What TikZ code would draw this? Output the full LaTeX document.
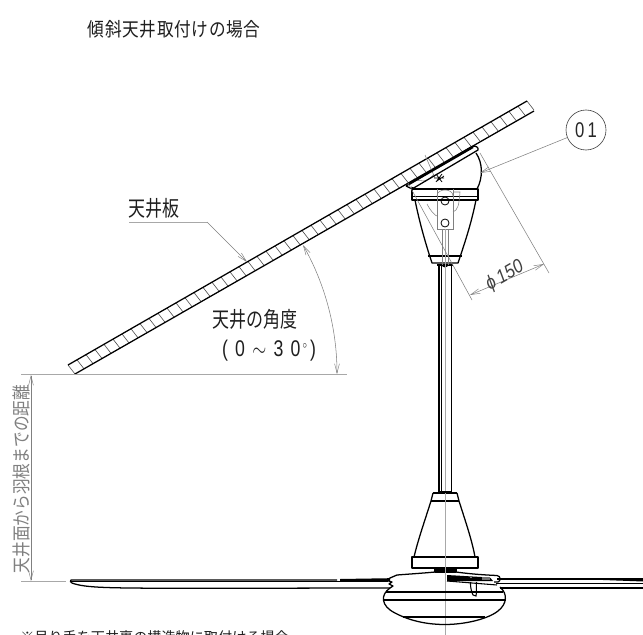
\documentclass[tikz,border=0pt]{standalone}
\usepackage{fontspec}
\usetikzlibrary{arrows.meta}
\setmainfont{Noto Sans CJK JP}
\newfontfamily\latinthin{Liberation Sans}
\definecolor{dimgray}{gray}{0.5}
\definecolor{lightline}{gray}{0.66}
\tikzset{
  x=0.75pt,y=-0.75pt,
  outline/.style={line width=0.95pt,black,line join=round},
  fine/.style={line width=0.55pt,black},
  thin gray/.style={line width=0.4pt,dimgray},
  ext/.style={line width=0.75pt,lightline},
  barb/.style={-{Straight Barb[length=7pt,width=3.6pt,line width=0.35pt]}},
  barbs/.style={{Straight Barb[length=7pt,width=3.6pt,line width=0.35pt]}-{Straight Barb[length=7pt,width=3.6pt,line width=0.35pt]}},
  label/.style={inner sep=0pt,text=black!88},
}
\begin{document}
\begin{tikzpicture}
\useasboundingbox (0,0) rectangle (643,635);
\clip (0,0) rectangle (643,635);
\fill[white] (0,0) rectangle (643,635);

% ceiling board
\foreach \i in {0,...,51}{
  \draw[line width=0.45pt,black!70] ({68+9*\i},{365-5.175*\i}) -- ++(7,9);
}
\draw[outline] (68,365) -- (527,101);
\draw[outline] (75,374) -- (534,111);

% reference lines
\draw[ext] (21,374.5) -- (347,374.5);
\draw[ext] (21,581) -- (66,581);
\coordinate (dimtop) at (31,375);
\coordinate (dimbot) at (31,581);
\draw[thin gray,barbs] (dimtop) -- (dimbot);
\node[label,text=dimgray,rotate=90,font=\fontsize{14}{14}\selectfont] (dimtext) at (21,479) {\scalebox{0.84}[1.0]{天井面から羽根までの距離}};

% angle arc
\coordinate (arcA) at (303,245);
\coordinate (arcB) at (337,374);
\draw[thin gray,barbs] (arcA) .. controls (325.3,284.4) and (337,328.8) .. (arcB);

% labels
\node[label,font=\fontsize{12.5}{12.5}\selectfont] (title) at (174,29) {\scalebox{1}[1.15]{傾\hspace{0.5pt}斜\hspace{0.5pt}天\hspace{0.5pt}井\hspace{0.5pt}取\hspace{0.5pt}付\hspace{0.5pt}け\hspace{0.5pt}の\hspace{0.5pt}場\hspace{0.5pt}合}};
\node[label,font=\fontsize{15}{15}\selectfont] (board) at (154,208) {\scalebox{0.85}[1.08]{天井板}};
\coordinate (boardA) at (129,222);
\coordinate (boardB) at (207,222);
\coordinate (boardC) at (247,262);
\draw[ext] (boardA) -- (boardB);
\draw[thin gray,barb] (boardB) -- (boardC);
\node[label,font=\fontsize{15}{15}\selectfont] (angle) at (255,319) {\scalebox{0.85}[1.08]{天井の角度}};
\node[label,font=\fontsize{17}{17}\selectfont\latinthin] (range) at (269,351) {\scalebox{0.78}[1]{(\hspace{7pt}0\hspace{7pt}$\sim$\hspace{7pt}3\hspace{7pt}0\hspace{2pt}\raisebox{6pt}{\footnotesize$\circ$}\hspace{3pt})}};
\node[label,font=\fontsize{10.6}{10.6}\selectfont,anchor=west] (note) at (20,637.5) {※吊り手を天井裏の構造物に取付ける場合};

% ceiling bracket
\draw[thin gray] (425,155) -- (435,178);
\draw[thin gray] (414,178) .. controls (420,183) and (428,182) .. (434,174);
\draw[fine] (434,178) -- (444,178) (436,174) -- (442,182) (442,174) -- (436,182) (437,181) -- (444,176);
\draw[line width=1.7pt,black] (409,184) -- (473,147);
\draw[outline] (406,186) -- (472,146.5) .. controls (476,145) and (479,148) .. (478,150) -- (412,189);
\draw[outline] (406,186) -- (412,189);
\draw[outline] (476,153) .. controls (483,163) and (483,178) .. (477,189);
\draw[fine] (411,187) -- (417,189);

% upper housing
\draw[outline] (412,189) rectangle (478,200);
\draw[fine] (412,196) -- (478,196);
\draw[outline] (415,200) .. controls (420,225) and (427,248) .. (432,263) -- (458,263) .. controls (464,245) and (471,225) .. (476,200);
\draw[outline] (428,256) -- (462,256);
\draw[thin gray] (437,189) -- (437,229) -- (453,229) -- (453,189);
\draw[thin gray] (437,196) .. controls (437,188) and (453,188) .. (453,196);
\draw[thin gray] (427,204) .. controls (431,212) and (436,216) .. (437,216);
\draw[thin gray] (453,212) .. controls (458,210) and (459,205) .. (460,192) -- (454,192);
\node[circle,draw=black,line width=0.6pt,minimum size=6pt,inner sep=0pt] (bolta) at (445,201) {};
\node[circle,draw=black,line width=0.6pt,minimum size=6pt,inner sep=0pt] (boltb) at (445,223) {};
\fill[black] (441.5,264) arc[start angle=180,end angle=0,radius=3.5] -- cycle;
\draw[outline] (437,265) -- (453,265);

% stem
\draw[outline] (439,265) -- (439,492);
\draw[outline] (451.5,265) -- (451.5,492);
\draw[thin gray] (442,229) -- (442,265);
\draw[thin gray] (448,229) -- (448,265);
\draw[fine] (441,265) -- (441,492);
\draw[ext] (445,229) -- (445,635);

% lower cone
\draw[outline] (433,493) -- (457,493);
\draw[line width=1.5pt,black] (439,492) -- (451.5,492);
\draw[outline] (431,501) -- (459,501);
\draw[outline] (433,493) -- (431,501) .. controls (425,520) and (418,540) .. (414,557);
\draw[outline] (457,493) -- (459,501) .. controls (465,520) and (472,540) .. (475,557);
\draw[outline] (412,557) rectangle (478,568);
\draw[outline] (435,568) -- (435,572) -- (456,572) -- (456,568);
\draw[line width=1.2pt,black] (435,570) -- (456,570);
\draw[ext] (445,493) -- (445,635);

% blades
\draw[outline] (337,580) -- (71,580) .. controls (69,581) and (71,582) .. (72,583) .. controls (85,588) and (110,588) .. (175,588.3) -- (390,588);
\draw[fine] (71,581.8) -- (388,581.8);
\fill[black] (340,579) -- (390,578.2) -- (390,581) -- (340,581) -- cycle;
\draw[outline] (390,578) -- (397,575);
\draw[outline] (497,579) -- (643,579);
\draw[fine] (496,583.5) -- (643,583.5);
\draw[outline] (500,588) -- (643,588);
\fill[black] (590,579.5) -- (643,578) -- (643,581.5) -- cycle;

% motor body
\draw[outline] (390,578) .. controls (388,579) and (386,581) .. (392,582) -- (389,584) -- (393,586) -- (390,588);
\draw[outline] (397,575) .. controls (410,574) and (425,573) .. (435,572);
\draw[outline] (456,572) .. controls (470,574) and (485,575) .. (497,575.5) .. controls (501,576) and (501,581) .. (498,582) -- (494,582);
\draw[outline] (390,588) .. controls (380,595) and (381,606) .. (395,613) .. controls (412,622) and (430,624.5) .. (445,624.5) .. controls (465,624.5) and (488,619) .. (498,611) .. controls (507,604) and (508,594) .. (500,587);
\draw[fine,line width=0.8pt] (386,592) -- (503,592);
\draw[fine,line width=0.8pt] (383,600) -- (506,600);
\draw[line width=1.5pt,black] (403,617) -- (485,617);
\fill[black] (447,575) -- (490,577.5) -- (493,581) -- (447,581) -- cycle;
\fill[white] (471,577.5) circle[radius=0.7];
\fill[black!55] (482,577) rectangle (490,580);
\draw[fine,line width=0.8pt] (470.5,582) .. controls (470,587) and (472,593) .. (473,595) -- (476,596) .. controls (477,592) and (476,586) .. (476.5,582);
\draw[fine,line width=0.8pt] (447,581) -- (497,585);

% diameter dimension
\coordinate (extA) at (408,183);
\coordinate (extB) at (472,300);
\coordinate (extC) at (480,153);
\coordinate (extD) at (549,273);
\draw[thin gray] (extA) -- (extB);
\draw[thin gray] (extC) -- (extD);
\coordinate (dimA) at (470,295);
\coordinate (dimB) at (544,264);
\draw[thin gray,barbs] (dimA) -- (dimB);
\node[label,rotate=30,font=\fontsize{14.5}{14.5}\selectfont\latinthin,text=black!75] (phi) at (505,276) {\scalebox{0.86}[1]{\itshape ϕ\hspace{3pt}150}};

% callout
\node[circle,draw=black!75,line width=0.45pt,minimum size=30pt,inner sep=0pt,font=\fontsize{16}{16}\selectfont\latinthin,text=black!85] (callout) at (586,130) {\scalebox{0.78}[1]{0\hspace{3pt}1}};
\coordinate (tip) at (480,173);
\draw[thin gray,barb] (callout.202) -- (tip);
\end{tikzpicture}
\end{document}
